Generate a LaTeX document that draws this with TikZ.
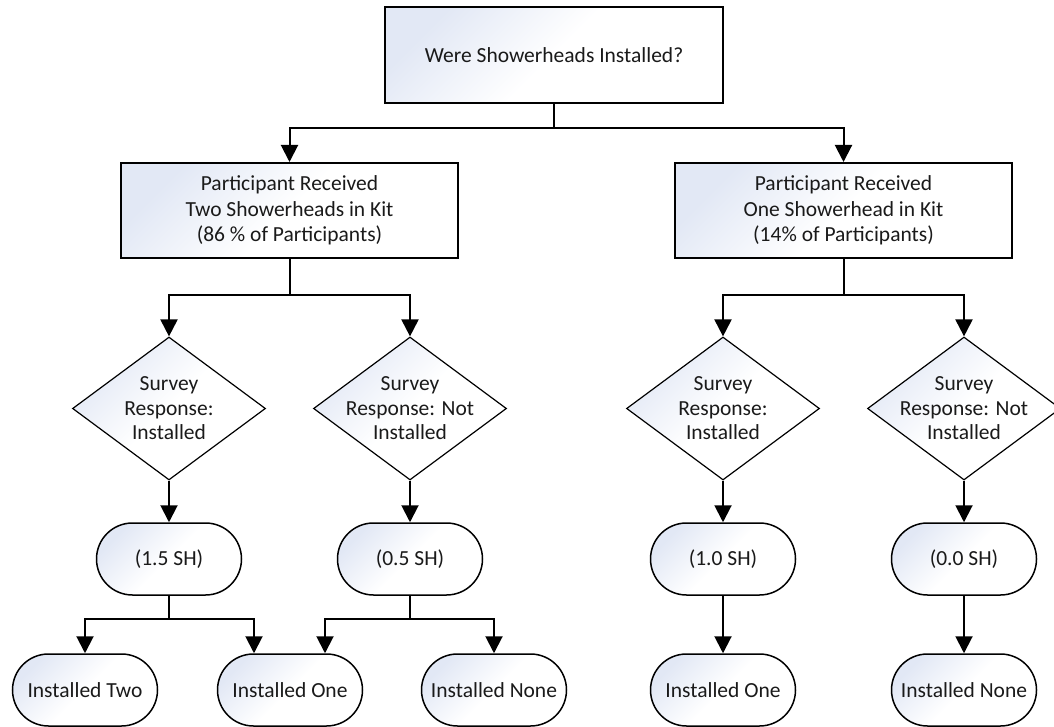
\documentclass[tikz,border=0pt]{standalone}
\usepackage{fontspec}
\setmainfont{Carlito}
\usetikzlibrary{shapes.geometric,arrows.meta}
\definecolor{shadeblue}{HTML}{E2E8F5}
\definecolor{txtcol}{HTML}{1A1A1A}
\begin{document}
\begin{tikzpicture}[x=1pt,y=-1pt,
  fillshade/.style={top color=shadeblue,bottom color=white,middle color=white,shading angle=45},
  basefont/.style={font=\fontsize{21.5}{25.5}\selectfont,text=txtcol},
  box/.style={draw,line width=2pt,fillshade,minimum width=337pt,minimum height=95pt,inner sep=0pt,align=center,basefont},
  dia/.style={diamond,draw,line width=1.2pt,fillshade,minimum width=193pt,minimum height=143pt,inner sep=0pt},
  lbl/.style={align=center,inner sep=0pt,font=\fontsize{21.5}{24.5}\selectfont,text=txtcol},
  oval/.style={draw,line width=1.5pt,fillshade,rounded corners=36pt,minimum width=145pt,minimum height=72pt,inner sep=0pt,basefont},
  arr/.style={line width=2pt,-{Triangle[width=17pt,length=17pt]}}]
\useasboundingbox (0,0) rectangle (1054,727);

% top
\node[box,minimum width=338pt,minimum height=96pt] (top) at (554,55) {Were Showerheads Installed?};
\node[box] (b1) at (289.5,210.5) {Participant Received\\Two Showerheads in Kit\\(86 \% of Participants)};
\node[box] (b2) at (843.5,210.5) {Participant Received\\One Showerhead in Kit\\(14\% of Participants)};

% diamonds
\node[dia] (d1) at (169,408.5) {};
\node[lbl] (d1t) at (d1) {Survey\\Response:\\Installed};
\node[dia] (d2) at (410,408.5) {};
\node[lbl] (d2t) at (d2) {Survey\\Response: Not\\Installed};
\node[dia] (d3) at (723,408.5) {};
\node[lbl] (d3t) at (d3) {Survey\\Response:\\Installed};
\node[dia] (d4) at (964,408.5) {};
\node[lbl] (d4t) at (d4) {Survey\\Response: Not\\Installed};

% middle ovals
\node[oval] (o1) at (169,559) {(1.5 SH)};
\node[oval] (o2) at (410,559) {(0.5 SH)};
\node[oval] (o3) at (723,559) {(1.0 SH)};
\node[oval] (o4) at (964,559) {(0.0 SH)};

% bottom ovals
\node[oval] (i1) at (85,690) {Installed Two};
\node[oval] (i2) at (290,690) {Installed One};
\node[oval] (i3) at (494,690) {Installed None};
\node[oval] (i4) at (723,690) {Installed One};
\node[oval] (i5) at (964,690) {Installed None};

% connectors
\draw[arr] (top.south) -- ++(0,24) -| (b1.north);
\draw[arr] (top.south) -- ++(0,24) -| (b2.north);
\draw[arr] (b1.south) -- ++(0,36) -| (d1.north);
\draw[arr] (b1.south) -- ++(0,36) -| (d2.north);
\draw[arr] (b2.south) -- ++(0,36) -| (d3.north);
\draw[arr] (b2.south) -- ++(0,36) -| (d4.north);
\draw[arr] (d1.south) -- (o1.north);
\draw[arr] (d2.south) -- (o2.north);
\draw[arr] (d3.south) -- (o3.north);
\draw[arr] (d4.south) -- (o4.north);
\draw[arr] (o1.south) -- ++(0,23) -| (i1.north);
\draw[arr] (o1.south) -- ++(0,23) -| ([xshift=-36pt]i2.north);
\draw[arr] (o2.south) -- ++(0,23) -| ([xshift=35pt]i2.north);
\draw[arr] (o2.south) -- ++(0,23) -| (i3.north);
\draw[arr] (o3.south) -- (i4.north);
\draw[arr] (o4.south) -- (i5.north);
\end{tikzpicture}
\end{document}
